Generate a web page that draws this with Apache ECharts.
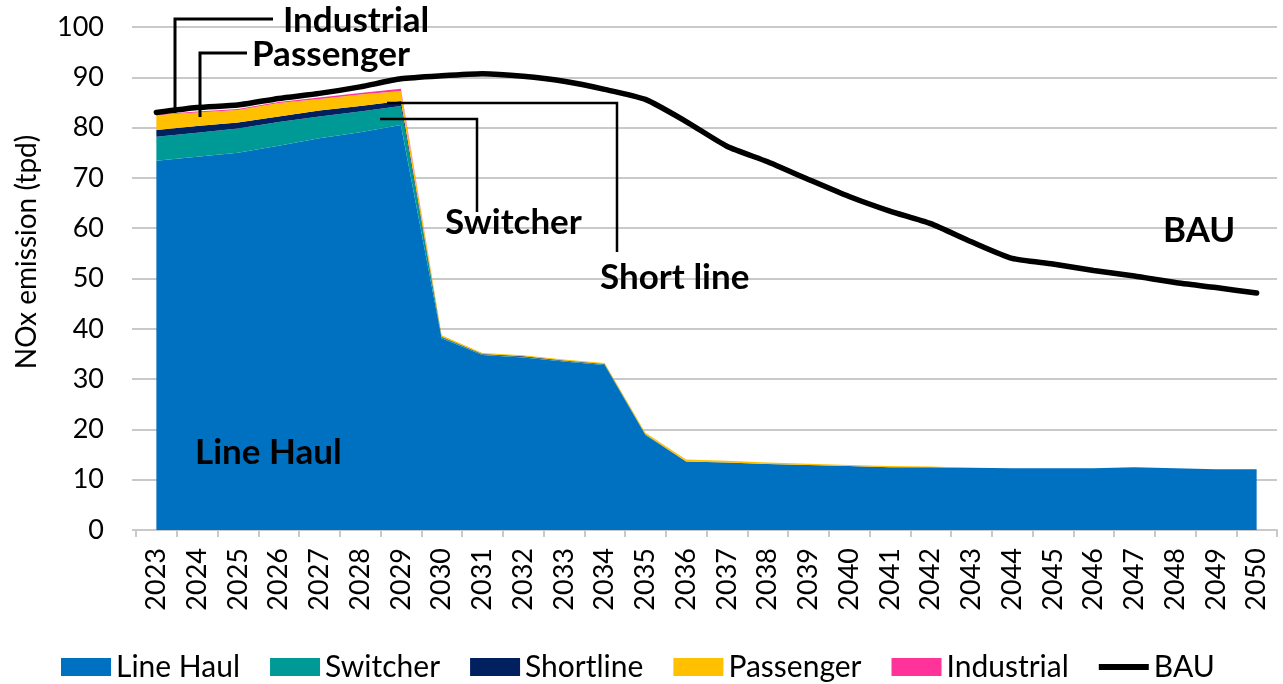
<!DOCTYPE html>
<html>
<head>
<meta charset="utf-8">
<script src="https://cdn.jsdelivr.net/npm/echarts@6/dist/echarts.min.js"></script>
<style>
  html, body { margin: 0; padding: 0; background: #ffffff; }
  #chart { width: 1283px; height: 684px; }
</style>
</head>
<body>
<div id="chart"></div>
<script>
// Rail NOx emissions by sector (tons per day), stacked, with business-as-usual trajectory
const years = ['2023','2024','2025','2026','2027','2028','2029','2030','2031','2032','2033','2034','2035','2036',
               '2037','2038','2039','2040','2041','2042','2043','2044','2045','2046','2047','2048','2049','2050'];

const lineHaul   = [73.4, 74.2, 75.0, 76.4, 77.9, 79.1, 80.5, 38.1, 34.8, 34.3, 33.5, 32.8, 18.9, 13.6,
                    13.4, 13.1, 12.9, 12.7, 12.5, 12.5, 12.4, 12.3, 12.3, 12.3, 12.5, 12.3, 12.1, 12.1];
const switcher   = [4.8, 4.8, 4.8, 4.7, 4.3, 4.1, 3.8, 0.2, 0.1, 0.1, 0.1, 0.1, 0.1, 0,
                    0, 0, 0, 0, 0, 0, 0, 0, 0, 0, 0, 0, 0, 0];
const shortline  = [1.3, 1.3, 1.2, 1.1, 1.2, 1.1, 1.0, 0.1, 0.1, 0.15, 0.1, 0.1, 0.05, 0,
                    0, 0, 0, 0, 0, 0, 0, 0, 0, 0, 0, 0, 0, 0];
const passenger  = [3.0, 2.7, 2.5, 2.7, 2.3, 2.3, 2.0, 0.3, 0.2, 0.2, 0.2, 0.2, 0.3, 0.4,
                    0.35, 0.3, 0.25, 0.2, 0.2, 0.1, 0, 0, 0, 0, 0, 0, 0, 0];
const industrial = [0.1, 0.2, 0.2, 0.2, 0.3, 0.3, 0.4, 0, 0, 0, 0, 0, 0, 0,
                    0, 0, 0, 0, 0, 0, 0, 0, 0, 0, 0, 0, 0, 0];
const bau        = [83.0, 84.0, 84.5, 85.8, 86.8, 88.1, 89.7, 90.3, 90.7, 90.2, 89.2, 87.6, 85.6, 81.2,
                    76.3, 73.2, 69.7, 66.3, 63.4, 60.9, 57.3, 54.0, 52.9, 51.6, 50.5, 49.2, 48.2, 47.1];

const yTicks = [0, 10, 20, 30, 40, 50, 60, 70, 80, 90, 100];

const FONT = 'Lato, "Open Sans", sans-serif';
const GRID_GREY = '#c9c9c9';

function areaSeries(name, data, color) {
  return {
    name: name,
    type: 'line',
    stack: 'sectors',
    data: data,
    symbol: 'none',
    lineStyle: { width: 0 },
    itemStyle: { color: color },
    areaStyle: { color: color, opacity: 1 },
    emphasis: { disabled: true }
  };
}

const chart = echarts.init(document.getElementById('chart'), null, { renderer: 'canvas' });

const labelStyle = { fontFamily: FONT, fontSize: 35, fontWeight: 'bold', fill: '#000' };
function note(text, x, y) {
  return { type: 'text', left: x, top: y, style: Object.assign({ text: text }, labelStyle), z: 100 };
}
function leader(points, w) {
  return { type: 'polyline', shape: { points: points }, style: { stroke: '#000', lineWidth: w, fill: null }, z: 99 };
}

chart.setOption({
  animation: false,
  backgroundColor: '#ffffff',
  textStyle: { fontFamily: FONT, color: '#000' },
  grid: { left: 136, right: 6, top: 27, bottom: 154, containLabel: false },
  xAxis: {
    type: 'category',
    data: years,
    boundaryGap: true,
    axisLine: { lineStyle: { color: GRID_GREY, width: 2 } },
    axisTick: { show: true, length: 7, lineStyle: { color: GRID_GREY, width: 2 } },
    axisLabel: { interval: 0, rotate: 90, fontSize: 27, color: '#000', fontFamily: FONT, margin: 18 }
  },
  yAxis: {
    type: 'value',
    min: yTicks[0],
    max: yTicks[yTicks.length - 1],
    interval: 10,
    axisLine: { show: false },
    axisTick: { show: true, length: 4, lineStyle: { color: GRID_GREY, width: 2 } },
    splitLine: { lineStyle: { color: GRID_GREY, width: 2 } },
    axisLabel: { fontSize: 27, color: '#000', fontFamily: FONT, margin: 32 }
  },
  legend: {
    left: 56,
    top: 647,
    itemWidth: 50,
    itemHeight: 18,
    itemGap: 30,
    icon: 'rect',
    textStyle: { fontSize: 30, color: '#000', fontFamily: FONT },
    data: ['Line Haul', 'Switcher', 'Shortline', 'Passenger', 'Industrial',
           { name: 'BAU', icon: 'path://M0,0 L50,0 L50,6 L0,6 Z' }]
  },
  series: [
    areaSeries('Line Haul', lineHaul, '#0070C0'),
    areaSeries('Switcher', switcher, '#009A96'),
    areaSeries('Shortline', shortline, '#002060'),
    areaSeries('Passenger', passenger, '#FFC000'),
    areaSeries('Industrial', industrial, '#FF3399'),
    {
      name: 'BAU',
      type: 'line',
      data: bau,
      symbol: 'none',
      smooth: 0.2,
      itemStyle: { color: '#000000' },
      lineStyle: { color: '#000000', width: 5.5, cap: 'round' },
      z: 10
    }
  ],
  graphic: [
    {
      type: 'text',
      x: 27, y: 252,
      rotation: Math.PI / 2,
      style: { text: 'NOx emission (tpd)', fontFamily: FONT, fontSize: 28, fill: '#000',
               textAlign: 'center', textVerticalAlign: 'middle' }
    },
    leader([[273, 19], [175, 19], [175, 113]], 3),
    leader([[247, 53], [200, 53], [200, 117]], 3),
    leader([[380, 119], [477, 119], [477, 212]], 2.5),
    leader([[387, 103], [617, 103], [617, 252]], 2.5),
    note('Industrial', 283, 3),
    note('Passenger', 252, 37),
    note('Switcher', 445, 205),
    note('Short line', 600, 260),
    note('Line Haul', 195, 435),
    note('BAU', 1163, 213)
  ]
});
</script>
</body>
</html>
